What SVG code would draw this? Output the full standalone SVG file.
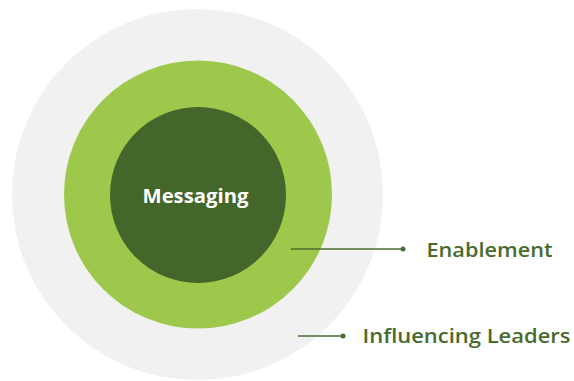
<svg xmlns="http://www.w3.org/2000/svg" width="574" height="381" viewBox="0 0 574 381">
<style>
.lbl{font-family:"Open Sans","Liberation Sans",sans-serif;font-size:20px;font-weight:600;fill:#4a6b2e}
.conn{stroke:#4a6b2e;stroke-width:1.5;fill:none}
.dot{fill:#4a6b2e}
</style>
<rect width="574" height="381" fill="#ffffff"/>
<g id="influencing-leaders">
<circle cx="197.5" cy="194.5" r="185.5" fill="#f1f1f1"/>
</g>
<g id="enablement">
<circle cx="198" cy="194.5" r="134" fill="#9dc84b"/>
</g>
<g id="messaging">
<circle cx="198" cy="195" r="88" fill="#43662a"/>
<text x="195.5" y="203" text-anchor="middle" font-family="'Open Sans','Liberation Sans',sans-serif" font-size="20" font-weight="700" fill="#ffffff" textLength="106" lengthAdjust="spacingAndGlyphs">Messaging</text>
</g>
<g id="connectors">
<line class="conn" x1="291" y1="249" x2="403" y2="249"/>
<circle class="dot" cx="403" cy="249" r="2.5"/>
<line class="conn" x1="298" y1="336" x2="343" y2="336"/>
<circle class="dot" cx="343" cy="336" r="2.5"/>
</g>
<g id="labels">
<text class="lbl" x="426.5" y="257" textLength="126" lengthAdjust="spacingAndGlyphs">Enablement</text>
<text class="lbl" x="362.5" y="343" textLength="208" lengthAdjust="spacingAndGlyphs">Influencing Leaders</text>
</g>
</svg>
